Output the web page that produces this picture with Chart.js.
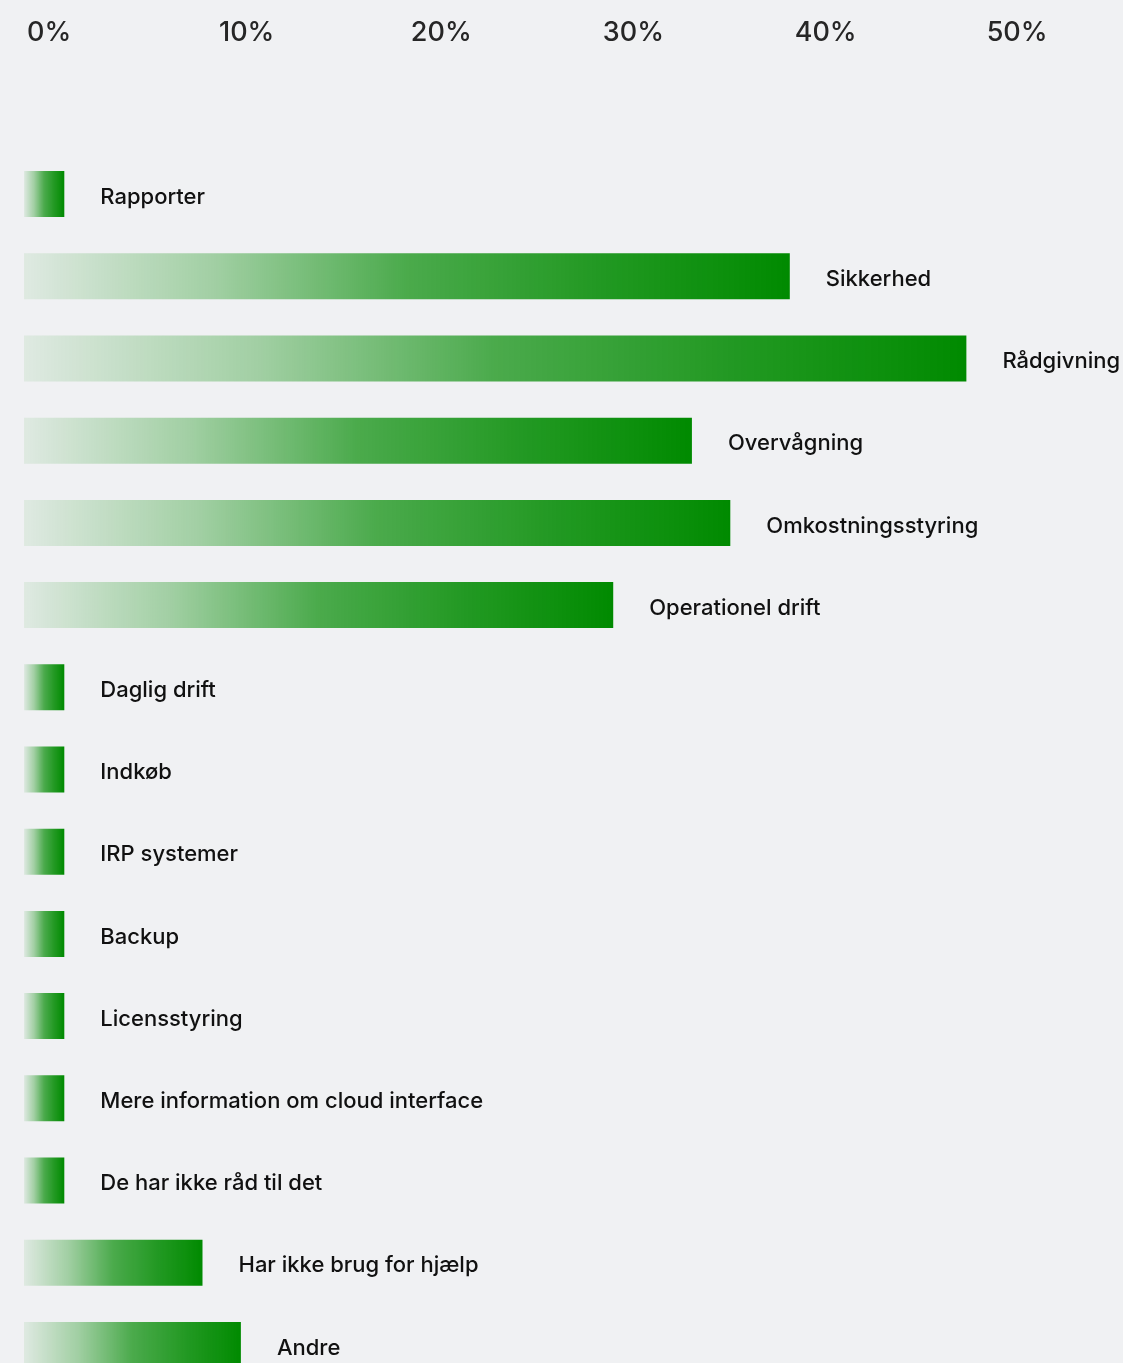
<html>
<head>
    <script src="https://cdn.jsdelivr.net/npm/chart.js@4.4.3/dist/chart.umd.min.js"></script>
    <style>
        body { margin: 0; background: #f0f1f3; overflow: hidden; }
        #wrap { width: 1123px; height: 1390px; }
    </style>
</head>
<body>
<div id="wrap"><canvas id="mychart"></canvas></div>
<script>
    const labels = ["Rapporter", "Sikkerhed", "Rådgivning", "Overvågning", "Omkostningsstyring",
        "Operationel drift", "Daglig drift", "Indkøb", "IRP systemer", "Backup", "Licensstyring",
        "Mere information om cloud interface", "De har ikke råd til det", "Har ikke brug for hjælp", "Andre"];
    const values = [2.1, 39.9, 49.1, 34.8, 36.8, 30.7, 2.1, 2.1, 2.1, 2.1, 2.1, 2.1, 2.1, 9.3, 11.3];
    const tickValues = [0, 10, 20, 30, 40, 50];

    // gradient from the bar's start to its end
    function barGradient(ctx) {
        const chart = ctx.chart;
        const x = chart.scales.x;
        if (!x || !chart.chartArea) return '#008a00';
        const x0 = x.getPixelForValue(0), x1 = x.getPixelForValue(ctx.raw);
        const g = chart.ctx.createLinearGradient(x0, 0, x1, 0);
        g.addColorStop(0, 'rgba(0,138,0,0.07)');
        g.addColorStop(0.25, 'rgba(0,138,0,0.33)');
        g.addColorStop(0.5, 'rgba(0,138,0,0.69)');
        g.addColorStop(0.75, 'rgba(0,138,0,0.86)');
        g.addColorStop(1, 'rgba(0,138,0,1)');
        return g;
    }

    const barLabels = {
        id: 'barLabels',
        afterDatasetsDraw(chart) {
            const c = chart.ctx;
            const meta = chart.getDatasetMeta(0);
            c.save();
            c.font = '500 22px Inter';
            c.fillStyle = '#111';
            c.textBaseline = 'middle';
            c.textAlign = 'left';
            meta.data.forEach((bar, i) => {
                c.fillText(labels[i], bar.x + 36, bar.y + 3);
            });
            // percent ticks along the top
            const xs = chart.scales.x;
            c.font = '500 27px Inter';
            c.fillStyle = '#262626';
            tickValues.forEach(v => {
                c.fillText(v + '%', xs.getPixelForValue(v) + 3, 33);
            });
            c.restore();
        }
    };

    new Chart(document.getElementById('mychart'), {
        type: 'bar',
        data: {
            labels: labels,
            datasets: [{
                data: values,
                backgroundColor: barGradient,
                borderWidth: 0,
                barPercentage: 0.56,
                categoryPercentage: 1
            }]
        },
        options: {
            indexAxis: 'y',
            responsive: true,
            maintainAspectRatio: false,
            animation: false,
            layout: { padding: { left: 24, right: 5, top: 0, bottom: 4 } },
            plugins: { legend: { display: false }, tooltip: { enabled: false } },
            scales: {
                x: {
                    position: 'top',
                    min: 0,
                    max: 57,
                    grid: { display: false, drawTicks: false },
                    border: { display: false },
                    ticks: { display: false },
                    afterFit: s => { s.height = 153; }
                },
                y: { display: false }
            }
        },
        plugins: [barLabels]
    });
</script>
</body>
</html>
